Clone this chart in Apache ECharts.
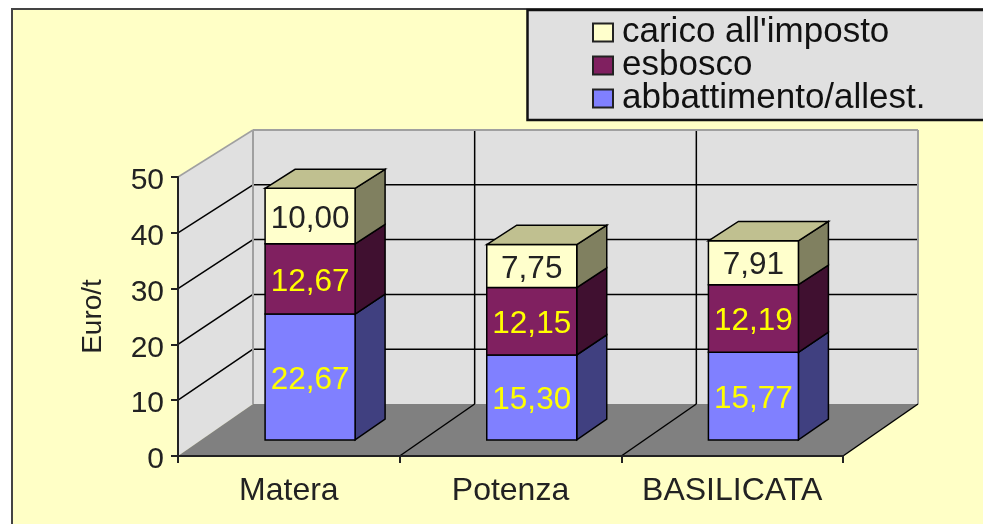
<!DOCTYPE html>
<html>
<head>
<meta charset="utf-8">
<style>html,body{margin:0;padding:0;background:#fff}#c{width:983px;height:524px}</style>
<script src="https://cdn.jsdelivr.net/npm/echarts@6/dist/echarts.min.js"></script>
</head>
<body>
<div id="c"></div>
<script>
var categories = ['Matera', 'Potenza', 'BASILICATA'];
var abbattimento = [22.67, 15.30, 15.77];
var esbosco = [12.67, 12.15, 12.19];
var carico = [10.00, 7.75, 7.91];
var yTicks = [0, 10, 20, 30, 40, 50];

var FONT = '"Liberation Sans", Arial, sans-serif';
var TEXT = '#222222';

function depth(t, v) {
  return [75 * t, (-52 + 5 * v / 50) * t];
}
function pt(api, c, v, shiftX, t) {
  var p = api.coord([c, v]);
  var o = depth(t, v);
  return [p[0] + shiftX + o[0], p[1] + o[1]];
}
function poly(points, fill, stroke, w) {
  return {
    type: 'polygon', shape: { points: points },
    style: { fill: fill, stroke: stroke || null, lineWidth: w || 0 }
  };
}
function seg(a, b, color, w) {
  return {
    type: 'line', shape: { x1: a[0], y1: a[1], x2: b[0], y2: b[1] },
    style: { stroke: color, lineWidth: w, fill: null }
  };
}

function renderFrame(params, api) {
  var cs = params.coordSys;
  var L = cs.x, R = cs.x + cs.width;
  var slot = cs.width / categories.length;
  function P(x, v, t) {
    var y = api.coord([0, v])[1];
    var o = depth(t, v);
    return [x + o[0], y + o[1]];
  }
  var kids = [];
  kids.push(poly([P(L, 0, 0), P(L, 50, 0), P(L, 50, 1), P(L, 0, 1)], '#e0e0e0'));
  kids.push(poly([P(L, 0, 1), P(L, 50, 1), P(R, 50, 1), P(R, 0, 1)], '#e0e0e0'));
  kids.push(poly([P(L, 0, 0), P(L, 0, 1), P(R, 0, 1), P(R, 0, 0)], '#808080'));
  yTicks.forEach(function (v) {
    if (v === 0 || v === 50) return;
    kids.push(seg(P(L, v, 0), P(L, v, 1), '#000', 1.5));
    kids.push(seg(P(L, v, 1), P(R, v, 1), '#000', 1.5));
  });
  for (var i = 1; i < categories.length; i++) {
    var x = L + slot * i;
    kids.push(seg(P(x, 0, 0), P(x, 0, 1), '#000', 1.5));
    kids.push(seg(P(x, 0, 1), P(x, 50, 1), '#000', 1.5));
  }
  kids.push(seg(P(L, 50, 0), P(L, 50, 1), '#a0a0a0', 1.5));
  kids.push(seg(P(L, 50, 1), P(R, 50, 1), '#a0a0a0', 2));
  kids.push(seg(P(L, 0, 1), P(L, 50, 1), '#a0a0a0', 2));
  kids.push(seg(P(R, 0, 1), P(R, 50, 1), '#a0a0a0', 2));
  kids.push(seg(P(R, 0, 0), P(R, 0, 1), '#000', 1.5));
  return { type: 'group', children: kids };
}

function makeBar(front, side, labelColor, cap) {
  return function (params, api) {
    var c = api.value(0), lo = api.value(1), hi = api.value(2);
    var half = 45, t0 = 0.31, t1 = 0.71, nudge = -2;
    var flo = pt(api, c, lo, nudge - half, t0), fhi = pt(api, c, hi, nudge - half, t0);
    var rlo = pt(api, c, lo, nudge + half, t0), rhi = pt(api, c, hi, nudge + half, t0);
    var blo = pt(api, c, lo, nudge + half, t1), bhi = pt(api, c, hi, nudge + half, t1);
    var kids = [
      poly([rlo, rhi, bhi, blo], side, '#000', 1.5),
      poly([flo, fhi, rhi, rlo], front, '#000', 1.5)
    ];
    if (cap) {
      var tl = pt(api, c, hi, nudge - half, t1);
      kids.push(poly([fhi, tl, bhi, rhi], cap, '#000', 1.5));
    }
    kids.push({
      type: 'text',
      style: {
        text: (hi - lo).toFixed(2).replace('.', ','),
        x: (flo[0] + rlo[0]) / 2,
        y: (flo[1] + fhi[1]) / 2 + 3,
        fill: labelColor,
        font: '31.5px ' + FONT,
        align: 'center',
        verticalAlign: 'middle'
      }
    });
    return { type: 'group', children: kids };
  };
}

function rows(values, below) {
  return values.map(function (v, i) {
    var base = below ? below[i][2] : 0;
    return [i, base, +(base + v).toFixed(2)];
  });
}
var r1 = rows(abbattimento), r2 = rows(esbosco, r1), r3 = rows(carico, r2);

var chart = echarts.init(document.getElementById('c'), null, { renderer: 'canvas' });
chart.setOption({
  animation: false,
  backgroundColor: '#ffffff',
  graphic: [
    { type: 'rect', z: -10, shape: { x: 12, y: 9, width: 1100, height: 700 },
      style: { fill: '#ffffc6', stroke: '#444', lineWidth: 2 } },
    { type: 'rect', z: 3, shape: { x: 527.5, y: 10, width: 600, height: 110 },
      style: { fill: '#e0e0e0', stroke: '#111', lineWidth: 2.5 } }
  ],
  grid: { left: 178, right: 140, top: 177, bottom: 68 },
  xAxis: {
    type: 'category', data: categories, z: 5,
    axisLine: { show: true, lineStyle: { color: '#222', width: 2 } },
    axisTick: { show: true, length: 7, lineStyle: { color: '#222', width: 2 } },
    axisLabel: { color: TEXT, fontFamily: FONT, fontSize: 32, margin: 19, interval: 0 },
    splitLine: { show: false }
  },
  yAxis: {
    type: 'value', min: 0, max: 50, interval: 10, z: 5,
    name: 'Euro/t', nameLocation: 'middle', nameRotate: 90, nameGap: 71,
    nameTextStyle: { color: TEXT, fontFamily: FONT, fontSize: 28 },
    axisLine: { show: true, lineStyle: { color: '#222', width: 2 } },
    axisTick: { show: true, length: 7, lineStyle: { color: '#222', width: 2 } },
    axisLabel: { color: TEXT, fontFamily: FONT, fontSize: 30, margin: 14, verticalAlign: 'top', lineHeight: 8 },
    splitLine: { show: false }
  },
  legend: {
    z: 4, orient: 'vertical', left: 592, top: 15, padding: 0, itemGap: -2,
    itemWidth: 20, itemHeight: 18, selectedMode: false,
    textStyle: { color: '#111', fontFamily: FONT, fontSize: 35, padding: [4, 0, 0, 4] },
    data: [
      { name: "carico all'imposto", icon: 'rect', itemStyle: { color: '#ffffcc', borderColor: '#222', borderWidth: 2 } },
      { name: 'esbosco', icon: 'rect', itemStyle: { color: '#802060', borderColor: '#222', borderWidth: 2 } },
      { name: 'abbattimento/allest.', icon: 'rect', itemStyle: { color: '#8080ff', borderColor: '#222', borderWidth: 2 } }
    ]
  },
  series: [
    { type: 'custom', name: 'frame', z: 1, silent: true, clip: false, renderItem: renderFrame, data: [[0]] },
    { type: 'custom', name: 'abbattimento/allest.', z: 2, silent: true, itemStyle: { color: '#8080ff' },
      renderItem: makeBar('#8080ff', '#404080', '#ffff00'), data: r1 },
    { type: 'custom', name: 'esbosco', z: 2, silent: true, itemStyle: { color: '#802060' },
      renderItem: makeBar('#802060', '#401030', '#ffff00'), data: r2 },
    { type: 'custom', name: "carico all'imposto", z: 2, silent: true, itemStyle: { color: '#ffffcc' },
      renderItem: makeBar('#ffffcc', '#808060', TEXT, '#c0c090'), data: r3 }
  ]
});
</script>
</body>
</html>
